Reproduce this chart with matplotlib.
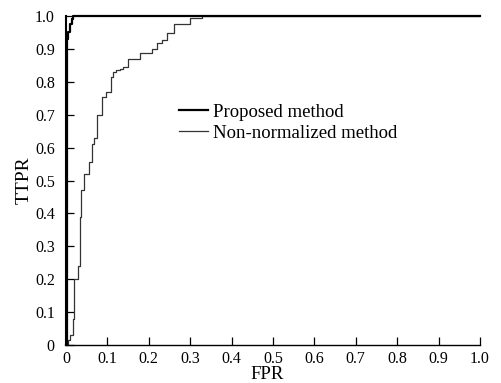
import numpy as np
import matplotlib
matplotlib.use("Agg")
import matplotlib.pyplot as plt

plt.rcParams['font.family'] = ['Liberation Serif', 'DejaVu Serif']

# ROC curves (x where the curve jumps, tpr after jump)
fpr_prop = [0.0, 0.0, 0.002, 0.006, 0.010, 0.014, 0.018, 1.0]
tpr_prop = [0.0, 0.0, 0.93, 0.952, 0.975, 0.99, 1.0, 1.0]

fpr_nn = [0.0, 0.004, 0.010, 0.016, 0.020, 0.028, 0.034, 0.037, 0.043, 0.055,
          0.063, 0.068, 0.074, 0.086, 0.097, 0.109, 0.114, 0.122, 0.130, 0.138,
          0.150, 0.179, 0.207, 0.220, 0.232, 0.244, 0.260, 0.300, 0.328, 1.0]
tpr_nn = [0.0, 0.015, 0.03, 0.08, 0.20, 0.24, 0.39, 0.47, 0.52, 0.555,
          0.61, 0.63, 0.70, 0.755, 0.77, 0.815, 0.83, 0.835, 0.84, 0.845,
          0.87, 0.888, 0.90, 0.917, 0.927, 0.947, 0.976, 0.993, 1.0, 1.0]

ticks = np.round(np.arange(0, 1.01, 0.1), 1)
ticklabels = ["0"] + ["%.1f" % t for t in ticks[1:]]

fig = plt.figure(figsize=(5.01, 3.83), dpi=100)
ax = fig.add_axes([0.1317, 0.0992, 0.8263, 0.859])

ax.step(fpr_prop, tpr_prop, where='post', color='black', lw=1.6,
        label='Proposed method', zorder=3, clip_on=False)
ax.step(fpr_nn, tpr_nn, where='post', color='0.2', lw=0.9,
        label='Non-normalized method')

ax.set_xlim(0, 1.0)
ax.set_ylim(0, 1.0)
ax.set_xticks(ticks)
ax.set_xticklabels(ticklabels)
ax.set_yticks(ticks)
ax.set_yticklabels(ticklabels)
ax.tick_params(direction='in', length=6, width=0.9, labelsize=11.5, pad=4)
ax.tick_params(axis='y', pad=8)

ax.spines['top'].set_visible(False)
ax.spines['right'].set_visible(False)
ax.spines['left'].set_linewidth(1.5)
ax.spines['bottom'].set_linewidth(1.0)

ax.set_xlabel('FPR', fontsize=13.5, labelpad=0)
ax.set_ylabel('TTPR', fontsize=14, labelpad=2)
ax.xaxis.set_label_coords(0.485, -0.065)

ax.legend(loc='upper left', bbox_to_anchor=(0.272, 0.733), frameon=False,
          fontsize=13.5, handlelength=1.55, handletextpad=0.3,
          labelspacing=0.2, borderaxespad=0, borderpad=0)

fig.savefig('out.png', dpi=100)
